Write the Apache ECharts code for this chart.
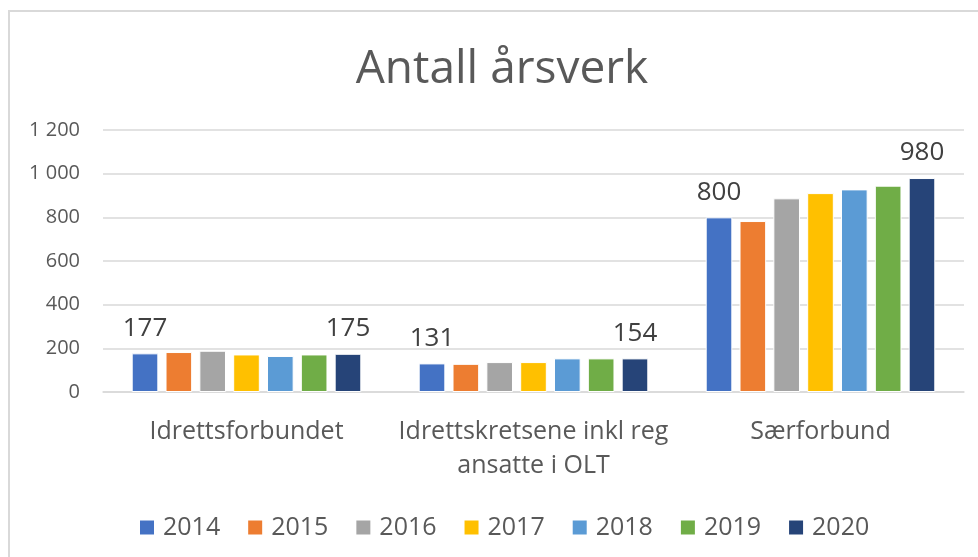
<!DOCTYPE html>
<html>
<head>
<meta charset="utf-8">
<script src="https://cdn.jsdelivr.net/npm/echarts@6/dist/echarts.min.js"></script>
<style>
  html, body { margin: 0; padding: 0; background: #fff; }
  #chart { width: 978px; height: 557px; }
</style>
</head>
<body>
<div id="chart"></div>
<script>
var categories = ['Idrettsforbundet', 'Idrettskretsene inkl reg\nansatte i OLT', 'Særforbund'];
var years = ['2014', '2015', '2016', '2017', '2018', '2019', '2020'];
var v2014 = [177, 131, 800];
var v2015 = [183, 129, 783];
var v2016 = [189, 137, 887];
var v2017 = [172, 137, 911];
var v2018 = [165, 154, 928];
var v2019 = [172, 154, 945];
var v2020 = [175, 154, 980];
var colors = ['#4472C4', '#ED7D31', '#A5A5A5', '#FFC000', '#5B9BD5', '#70AD47', '#264478'];
var labelled = ['2014', '2020'];

var font = '"Open Sans", "Noto Sans", sans-serif';
var allValues = [v2014, v2015, v2016, v2017, v2018, v2019, v2020];

var chart = echarts.init(document.getElementById('chart'));

var series = years.map(function (y, i) {
  return {
    name: y,
    type: 'bar',
    data: allValues[i],
    barGap: '27%',
    barCategoryGap: '20%',
    itemStyle: { color: colors[i], borderColor: '#ffffff', borderWidth: 1 },
    label: {
      show: labelled.indexOf(y) >= 0,
      position: 'top',
      distance: 12,
      fontFamily: font,
      fontSize: 26,
      color: '#404040'
    }
  };
});

var option = {
  animation: false,
  color: colors,
  graphic: [{
    type: 'rect',
    shape: { x: 9, y: 11, width: 1000, height: 600 },
    style: { fill: 'none', stroke: '#d9d9d9', lineWidth: 2 },
    silent: true
  }],
  title: {
    text: 'Antall årsverk',
    left: 497,
    textAlign: 'center',
    top: 42,
    textStyle: { fontFamily: font, fontSize: 46, fontWeight: 'normal', color: '#595959' }
  },
  grid: { left: 103, right: 14, top: 130, bottom: 165, containLabel: false },
  legend: {
    data: years,
    top: 510,
    left: 133,
    icon: 'rect',
    itemWidth: 16,
    itemHeight: 16,
    itemGap: 26,
    textStyle: { fontFamily: font, fontSize: 25, color: '#595959', padding: [0, 0, 0, 3] }
  },
  xAxis: {
    type: 'category',
    data: categories,
    axisLine: { lineStyle: { color: '#d9d9d9', width: 1.5 } },
    axisTick: { show: false },
    axisLabel: { interval: 0, fontFamily: font, fontSize: 25, color: '#595959', margin: 23, lineHeight: 34 }
  },
  yAxis: {
    type: 'value',
    min: 0,
    max: 1200,
    interval: 200,
    axisLine: { show: false },
    axisTick: { show: false },
    splitLine: { lineStyle: { color: '#d9d9d9', width: 1.5 } },
    axisLabel: {
      fontFamily: font,
      fontSize: 20,
      color: '#595959',
      margin: 23,
      formatter: function (v) {
        return String(v).replace(/\B(?=(\d{3})+(?!\d))/g, ' ');
      }
    }
  },
  series: series
};

chart.setOption(option);
</script>
</body>
</html>
